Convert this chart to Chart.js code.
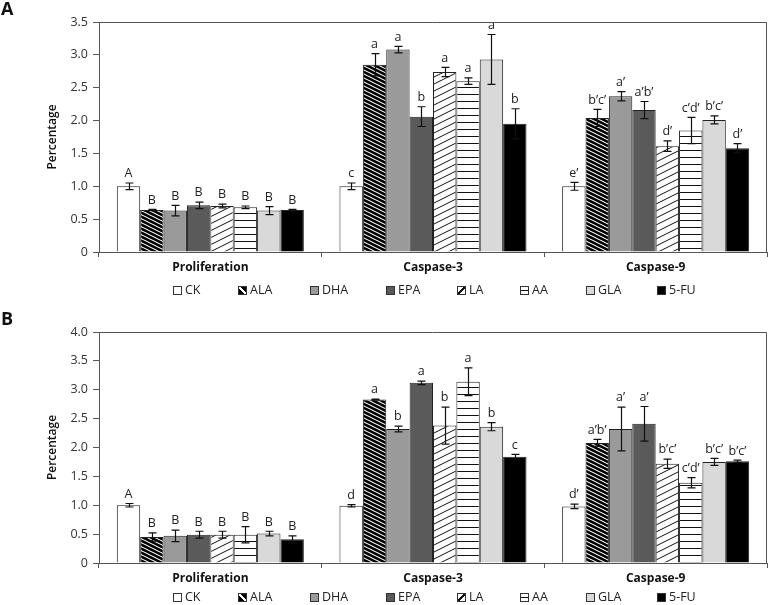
<!DOCTYPE html>
<html>
<head>
<meta charset="utf-8">
<script src="https://cdn.jsdelivr.net/npm/chart.js@4.4.1/dist/chart.umd.min.js"></script>
<style>
  body { margin: 0; background: #fff; }
  #wrap { position: relative; width: 768px; height: 605px; font-family: "Open Sans", sans-serif; color: #222; }
  .panel { position: absolute; left: 0; width: 768px; }
  .tag { position: absolute; left: 1px; font: bold 18px "Open Sans", sans-serif; color: #111; }
  .legend { position: absolute; left: 0; width: 768px; height: 14px; }
  .item { position: absolute; top: 0; display: flex; align-items: center; gap: 3px; font-size: 12.5px; line-height: 14px; color: #222; }
  .sw { width: 7px; height: 7px; border: 1px solid #333; }
</style>
</head>
<body>
<div id="wrap">
  <div class="panel" style="top:0;height:300px"><canvas id="chartA" width="768" height="300"></canvas></div>
  <div class="panel" style="top:300px;height:305px"><canvas id="chartB" width="768" height="305"></canvas></div>
  <div class="tag" style="top:-4px">A</div>
  <div class="tag" style="top:306px">B</div>
  <div class="legend" id="legendA" style="top:283px"></div>
  <div class="legend" id="legendB" style="top:590px"></div>
</div>
<script>
// ── Categories and treatments ────────────────────────────────────
const categories = ["Proliferation", "Caspase-3", "Caspase-9"];
const treatments = ["CK", "ALA", "DHA", "EPA", "LA", "AA", "GLA", "5-FU"];

// ── Panel A (values per treatment, in treatment order) ───────────
const aProlif     = [1.00, 0.64, 0.63, 0.71, 0.70, 0.68, 0.63, 0.64];
const aProlifErr  = [0.05, 0.01, 0.08, 0.05, 0.03, 0.02, 0.06, 0.01];
const aProlifSig  = ["A", "B", "B", "B", "B", "B", "B", "B"];
const aCasp3      = [1.00, 2.85, 3.08, 2.06, 2.74, 2.60, 2.93, 1.95];
const aCasp3Err   = [0.05, 0.17, 0.05, 0.15, 0.07, 0.05, 0.38, 0.23];
const aCasp3Sig   = ["c", "a", "a", "b", "a", "a", "a", "b"];
const aCasp9      = [1.00, 2.04, 2.37, 2.16, 1.61, 1.85, 2.01, 1.58];
const aCasp9Err   = [0.06, 0.13, 0.07, 0.13, 0.08, 0.20, 0.06, 0.07];
const aCasp9Sig   = ["e’", "b’c’", "a’", "a’b’", "d’", "c’d’", "b’c’", "d’"];

// ── Panel B ──────────────────────────────────────────────────────
const bProlif     = [1.00, 0.45, 0.47, 0.49, 0.49, 0.49, 0.51, 0.41];
const bProlifErr  = [0.03, 0.07, 0.10, 0.06, 0.06, 0.14, 0.04, 0.06];
const bProlifSig  = ["A", "B", "B", "B", "B", "B", "B", "B"];
const bCasp3      = [0.99, 2.83, 2.32, 3.12, 2.38, 3.14, 2.36, 1.84];
const bCasp3Err   = [0.02, 0.01, 0.05, 0.03, 0.32, 0.24, 0.07, 0.04];
const bCasp3Sig   = ["d", "a", "b", "a", "b", "a", "b", "c"];
const bCasp9      = [0.98, 2.08, 2.32, 2.41, 1.72, 1.39, 1.75, 1.76];
const bCasp9Err   = [0.04, 0.06, 0.38, 0.30, 0.08, 0.09, 0.06, 0.02];
const bCasp9Sig   = ["d’", "a’b’", "a’", "a’", "b’c’", "c’d’", "b’c’", "b’c’"];

// ── Fill patterns ────────────────────────────────────────────────
function stripes(bg, fg, w, h, down, lw) {
  const c = document.createElement("canvas");
  c.width = w; c.height = h;
  const g = c.getContext("2d");
  g.fillStyle = bg; g.fillRect(0, 0, w, h);
  g.strokeStyle = fg; g.lineWidth = lw;
  for (let k = -1; k <= 1; k++) {
    g.beginPath();
    if (down) { g.moveTo(0, k * h); g.lineTo(w, k * h + h); }
    else      { g.moveTo(0, k * h + h); g.lineTo(w, k * h); }
    g.stroke();
  }
  return g.createPattern(c, "repeat");
}
function hlines(gap) {
  const c = document.createElement("canvas");
  c.width = 4; c.height = gap;
  const g = c.getContext("2d");
  g.fillStyle = "#fff"; g.fillRect(0, 0, 4, gap);
  g.fillStyle = "#111"; g.fillRect(0, 3, 4, 1);
  return g.createPattern(c, "repeat");
}

const fills = [
  "#ffffff",
  stripes("#000", "#fff", 8, 4, true, 1.1),
  "#9a9a9a",
  "#5a5a5a",
  stripes("#fff", "#111", 14, 7, false, 1),
  hlines(7),
  "#d9d9d9",
  "#000000",
];
const swatchCss = [
  "#fff",
  "linear-gradient(45deg,#000 40%,#fff 40%,#fff 60%,#000 60%)",
  "#9a9a9a",
  "#5a5a5a",
  "linear-gradient(-45deg,#fff 40%,#111 40%,#111 60%,#fff 60%)",
  "linear-gradient(to bottom,#fff 40%,#111 40%,#111 60%,#fff 60%)",
  "#d9d9d9",
  "#000",
];
const legendLeft = [173, 238, 310, 386, 457, 520, 586, 657];

// ── Plugins: frame, error bars, significance letters ─────────────
const framePlugin = {
  id: "frame",
  afterDraw(chart) {
    const { ctx, chartArea: a } = chart;
    ctx.save();
    ctx.strokeStyle = "#555";
    ctx.lineWidth = 1;
    ctx.beginPath();
    ctx.moveTo(a.left, a.top + 0.5);
    ctx.lineTo(a.right - 0.5, a.top + 0.5);
    ctx.lineTo(a.right - 0.5, a.bottom);
    ctx.stroke();
    ctx.restore();
  },
};

const errorPlugin = {
  id: "errbars",
  afterDatasetsDraw(chart) {
    const { ctx } = chart;
    const y = chart.scales.y;
    ctx.save();
    chart.data.datasets.forEach((ds, i) => {
      const meta = chart.getDatasetMeta(i);
      meta.data.forEach((bar, j) => {
        const v = ds.data[j], e = ds.err[j];
        const yTop = y.getPixelForValue(v + e);
        const yBot = y.getPixelForValue(v - e);
        const x = Math.round(bar.x) + 0.5;
        ctx.strokeStyle = (i === 7 || i === 1) && e < 0.03 ? "#111" : "#111";
        ctx.lineWidth = 1.2;
        ctx.beginPath();
        ctx.moveTo(x, yTop); ctx.lineTo(x, yBot);
        ctx.moveTo(x - 4, yTop); ctx.lineTo(x + 4, yTop);
        ctx.moveTo(x - 4, yBot); ctx.lineTo(x + 4, yBot);
        ctx.stroke();

        ctx.fillStyle = "#222";
        ctx.font = "12.5px 'Open Sans', sans-serif";
        ctx.textAlign = "center";
        ctx.textBaseline = "bottom";
        ctx.fillText(ds.sig[j], bar.x, yTop - 3);
      });
    });
    ctx.restore();
  },
};

// ── Build one panel ──────────────────────────────────────────────
function makePanel(canvasId, vals, errs, sigs, yMax, padTop, axisH) {
  const datasets = treatments.map((t, i) => ({
    label: t,
    data: vals.map(v => v[i]),
    err: errs.map(e => e[i]),
    sig: sigs.map(s => s[i]),
    backgroundColor: fills[i],
    borderColor: "#222",
    borderWidth: 1,
    barPercentage: 1,
    categoryPercentage: 0.84,
  }));

  return new Chart(document.getElementById(canvasId), {
    type: "bar",
    data: { labels: categories, datasets },
    options: {
      responsive: false,
      animation: false,
      layout: { padding: { top: padTop, right: 1, left: 0, bottom: 0 } },
      plugins: { legend: { display: false }, tooltip: { enabled: false } },
      scales: {
        x: {
          afterFit: s => { s.height = axisH; },
          grid: { drawOnChartArea: false, drawTicks: true, tickLength: 5, color: "#555", offset: true },
          border: { display: true, color: "#555", width: 1 },
          ticks: {
            color: "#111",
            padding: 3,
            font: { family: "'Open Sans', sans-serif", size: 12, weight: "bold" },
          },
        },
        y: {
          min: 0,
          max: yMax,
          afterFit: s => { s.width = 99; },
          grid: { drawOnChartArea: false, drawTicks: true, tickLength: 6, color: "#555" },
          border: { display: true, color: "#555", width: 1 },
          ticks: {
            stepSize: 0.5,
            padding: 5,
            color: "#333",
            font: { family: "'Open Sans', sans-serif", size: 12.5 },
            callback: v => v === 0 ? "0" : v.toFixed(1),
          },
          title: {
            display: true,
            text: "Percentage",
            color: "#111",
            padding: { top: 45, bottom: 0 },
            font: { family: "'Open Sans', sans-serif", size: 12, weight: "600" },
          },
        },
      },
    },
    plugins: [framePlugin, errorPlugin],
  });
}

function renderLegend(id) {
  document.getElementById(id).innerHTML = treatments.map((t, i) => `
    <span class="item" style="left:${legendLeft[i]}px">
      <span class="sw" style="background:${swatchCss[i]}"></span>${t}
    </span>`).join("");
}

makePanel("chartA",
  [aProlif, aCasp3, aCasp9],
  [aProlifErr, aCasp3Err, aCasp9Err],
  [aProlifSig, aCasp3Sig, aCasp9Sig],
  3.5, 22, 48);

makePanel("chartB",
  [bProlif, bCasp3, bCasp9],
  [bProlifErr, bCasp3Err, bCasp9Err],
  [bProlifSig, bCasp3Sig, bCasp9Sig],
  4.0, 32, 42);

renderLegend("legendA");
renderLegend("legendB");
</script>
</body>
</html>
